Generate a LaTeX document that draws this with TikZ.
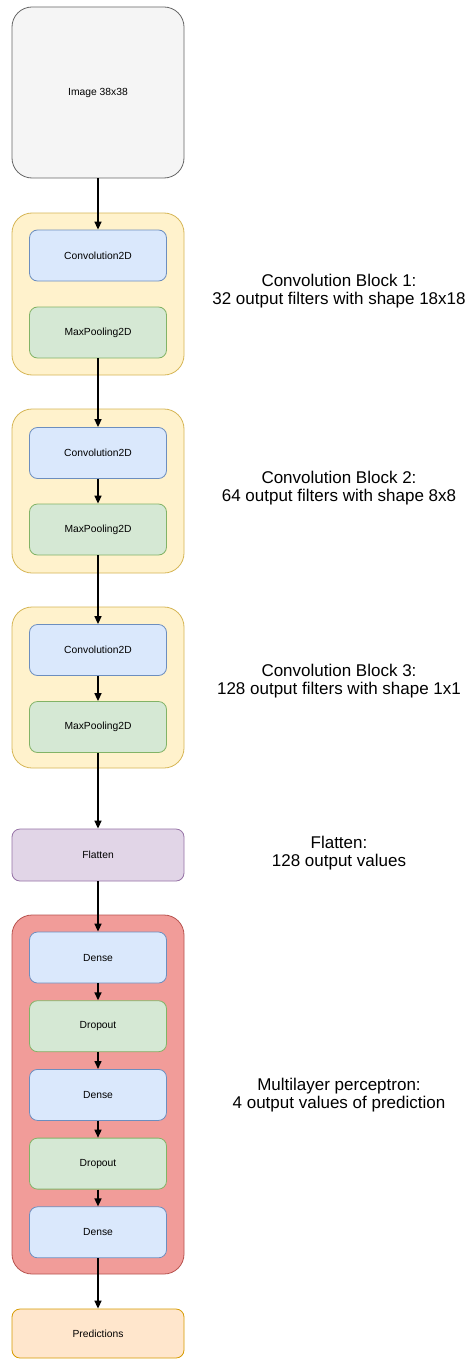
\documentclass[tikz,border=0pt]{standalone}
\usepackage{fontspec}
\setmainfont{Liberation Sans}
\usetikzlibrary{arrows.meta}

\definecolor{greyfill}{HTML}{F5F5F5}
\definecolor{greyline}{HTML}{666666}
\definecolor{yelfill}{HTML}{FFF2CC}
\definecolor{yelline}{HTML}{D6B656}
\definecolor{bluefill}{HTML}{DAE8FC}
\definecolor{blueline}{HTML}{6C8EBF}
\definecolor{greenfill}{HTML}{D5E8D4}
\definecolor{greenline}{HTML}{82B366}
\definecolor{purpfill}{HTML}{E1D5E7}
\definecolor{purpline}{HTML}{9673A6}
\definecolor{redfill}{HTML}{F19C99}
\definecolor{redline}{HTML}{B85450}
\definecolor{orfill}{HTML}{FFE6CC}
\definecolor{orline}{HTML}{D79B00}

\tikzset{
  box/.style={rectangle, inner sep=0pt, line width=0.8pt,
    font=\fontsize{10.3}{12}\selectfont},
  bigbox/.style={box, minimum width=172pt, rounded corners=20pt},
  wide/.style={box, minimum width=172pt, rounded corners=8pt},
  inner/.style={box, minimum width=137pt, minimum height=51pt, rounded corners=8pt},
  imgbox/.style={bigbox, minimum height=171pt, fill=greyfill, draw=greyline},
  convblock/.style={bigbox, fill=yelfill, draw=yelline},
  mlpblock/.style={bigbox, fill=redfill, draw=redline},
  layerblue/.style={inner, fill=bluefill, draw=blueline},
  layergreen/.style={inner, fill=greenfill, draw=greenline},
  flatbox/.style={wide, minimum height=52pt, fill=purpfill, draw=purpline},
  predbox/.style={wide, minimum height=49pt, fill=orfill, draw=orline},
  note/.style={align=center, inner sep=0pt, font=\fontsize{17}{18.5}\selectfont},
  flow/.style={line width=1.5pt, -{Stealth[length=8pt, width=7pt, inset=0pt]}}
}

\begin{document}
\begin{tikzpicture}[x=1pt, y=-1pt]
\useasboundingbox (0,0) rectangle (470,1359);
\fill[white] (0,0) rectangle (470,1359);

% input
\node[imgbox] (img) at (98,92.5) {Image 38x38};

% convolution block 1
\node[convblock, minimum height=162pt] (blk1) at (98,294) {};
\node[layerblue] (conv1) at (98,255.5) {Convolution2D};
\node[layergreen] (pool1) at (98,332.5) {MaxPooling2D};

% convolution block 2
\node[convblock, minimum height=164pt] (blk2) at (98,491) {};
\node[layerblue] (conv2) at (98,453) {Convolution2D};
\node[layergreen] (pool2) at (98,529.5) {MaxPooling2D};

% convolution block 3
\node[convblock, minimum height=161pt] (blk3) at (98,687.5) {};
\node[layerblue] (conv3) at (98,650) {Convolution2D};
\node[layergreen] (pool3) at (98,727) {MaxPooling2D};

% flatten
\node[flatbox] (flat) at (98,855) {Flatten};

% multilayer perceptron
\node[mlpblock, minimum height=359pt] (mlp) at (98,1094.5) {};
\node[layerblue] (d1) at (98,957.5) {Dense};
\node[layergreen] (do1) at (98,1026.2) {Dropout};
\node[layerblue] (d2) at (98,1094.9) {Dense};
\node[layergreen] (do2) at (98,1163.6) {Dropout};
\node[layerblue] (d3) at (98,1232.3) {Dense};

% output
\node[predbox] (pred) at (98,1333.5) {Predictions};

% connectors
\draw[flow] (img) -- (conv1);
\draw[flow] (pool1) -- (conv2);
\draw[flow] (conv2) -- (pool2);
\draw[flow] (pool2) -- (conv3);
\draw[flow] (conv3) -- (pool3);
\draw[flow] (pool3) -- (flat);
\draw[flow] (flat) -- (d1);
\draw[flow] (d1) -- (do1);
\draw[flow] (do1) -- (d2);
\draw[flow] (d2) -- (do2);
\draw[flow] (do2) -- (d3);
\draw[flow] (d3) -- (pred);

% annotations
\node[note] (n1) at (339,291) {Convolution Block 1:\\32 output filters with shape 18x18};
\node[note] (n2) at (339,488) {Convolution Block 2:\\64 output filters with shape 8x8};
\node[note] (n3) at (339,681) {Convolution Block 3:\\128 output filters with shape 1x1};
\node[note] (n4) at (339,853) {Flatten:\\128 output values};
\node[note] (n5) at (339,1095) {Multilayer perceptron:\\4 output values of prediction};
\end{tikzpicture}
\end{document}
